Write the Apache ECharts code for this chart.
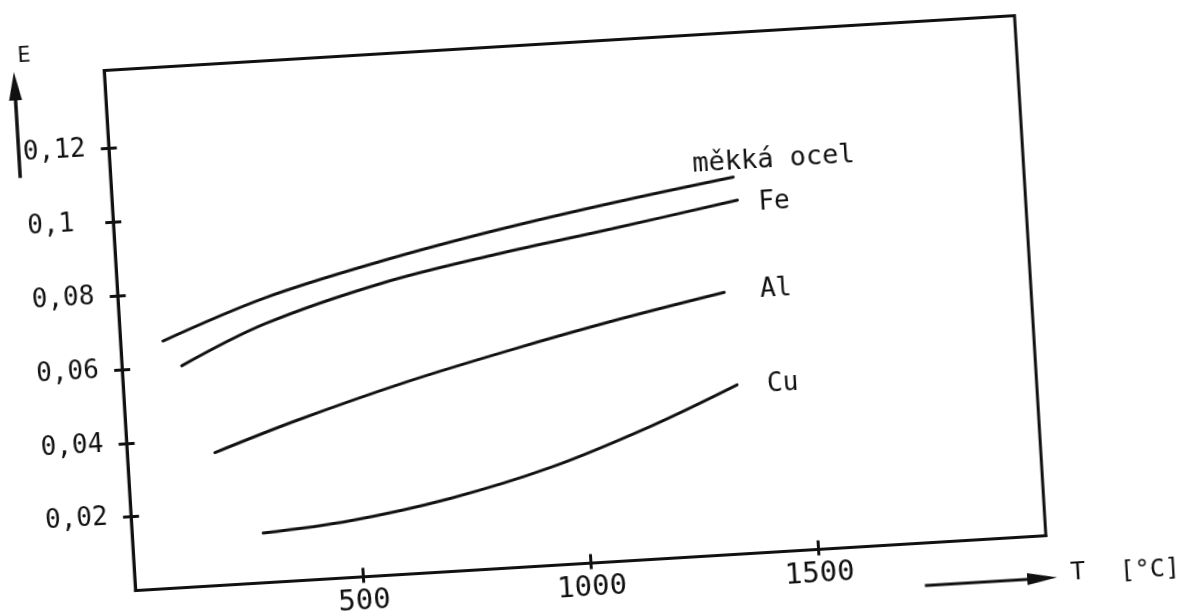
<!DOCTYPE html>
<html><head><meta charset="utf-8">
<script src="https://cdn.jsdelivr.net/npm/echarts@6/dist/echarts.min.js"></script>
<style>
html,body{margin:0;padding:0;width:1187px;height:612px;overflow:hidden;background:#fff;}
#chart{position:absolute;left:-20px;top:-20px;width:1227px;height:652px;transform:rotate(-3.45deg);transform-origin:50% 50%;}
</style></head><body><div id="chart"></div>
<script>
// ---- data ----
const seriesNames = ['měkká ocel', 'Fe', 'Al', 'Cu'];
const mekkaOcel = [[93,0.067],[322,0.077],[581,0.085],[837,0.0915],[1095,0.097],[1363,0.102]];
const fe        = [[131,0.060],[319,0.070],[578,0.079],[834,0.085],[1091,0.090],[1369,0.0957]];
const al        = [[192,0.036],[376,0.0434],[618,0.0519],[856,0.059],[1097,0.0655],[1328,0.071]];
const cu        = [[287,0.0135],[479,0.0154],[701,0.0198],[924,0.0265],[1149,0.036],[1344,0.0458]];
const xTicks = [500, 1000, 1500];
const xTickLabels = ['500', '1000', '1500'];
const yTicks = [0.02, 0.04, 0.06, 0.08, 0.1, 0.12];
const yTickLabels = ['0,02', '0,04', '0,06', '0,08', '0,1', '0,12'];
const xName = 'T';
const xUnit = '[°C]';
const yName = 'E';

// ---- styling ----
const INK = '#111';
const FONT = '"DejaVu Sans Mono", monospace';
const P = 20;
const seriesData = [mekkaOcel, fe, al, cu];
const nameOffsets = [[-40, -15], [21, 4], [36, 0], [30, 2]];
const nameSizes = [27, 26, 26, 26];

const chart = echarts.init(document.getElementById('chart'), null, {renderer: 'canvas'});

const xFmt = v => { const i = xTicks.indexOf(v); return i >= 0 ? xTickLabels[i] : ''; };
const yFmt = v => { const i = yTicks.findIndex(t => Math.abs(t - v) < 1e-9); return i >= 0 ? yTickLabels[i] : ''; };

const baseX = {type: 'value', min: 0, max: 2000, position: 'bottom', splitLine: {show: false}};
const baseY = {type: 'value', min: 0, max: 0.141, position: 'left', splitLine: {show: false}};

const option = {
  animation: false,
  backgroundColor: '#fff',
  grid: {left: 119.2 + P, top: 41.6 + P, width: 912, height: 521, show: true,
         borderColor: INK, borderWidth: 3, backgroundColor: 'transparent'},
  xAxis: [
    Object.assign({}, baseX, {
      axisLine: {show: true, onZero: false, lineStyle: {color: INK, width: 3}},
      axisTick: {show: true, inside: false, length: 6, customValues: xTicks, lineStyle: {color: INK, width: 3}},
      axisLabel: {show: true, customValues: xTicks, formatter: xFmt, margin: 10,
                  color: INK, fontFamily: FONT, fontSize: 29}
    }),
    Object.assign({}, baseX, {
      axisLine: {show: false, onZero: false},
      axisTick: {show: true, inside: true, length: 9, customValues: xTicks, lineStyle: {color: INK, width: 3}},
      axisLabel: {show: false}
    })
  ],
  yAxis: [
    Object.assign({}, baseY, {
      axisLine: {show: true, onZero: false, lineStyle: {color: INK, width: 3}},
      axisTick: {show: true, inside: false, length: 8, customValues: yTicks, lineStyle: {color: INK, width: 3}},
      axisLabel: {show: true, customValues: yTicks, formatter: yFmt, margin: 86, align: 'left',
                  color: INK, fontFamily: FONT, fontSize: 26}
    }),
    Object.assign({}, baseY, {
      axisLine: {show: false, onZero: false},
      axisTick: {show: true, inside: true, length: 8, customValues: yTicks, lineStyle: {color: INK, width: 3}},
      axisLabel: {show: false}
    })
  ],
  series: seriesData.map((d, i) => ({
    name: seriesNames[i], type: 'line', xAxisIndex: 0, yAxisIndex: 0,
    data: d, smooth: 0.35, showSymbol: false, symbol: 'none',
    lineStyle: {color: INK, width: 3, cap: 'round'}
  }))
};
chart.setOption(option);

// labels placed next to the end of each curve, via the chart's own scales
const labelGraphics = seriesData.map((d, i) => {
  const pt = chart.convertToPixel({xAxisIndex: 0, yAxisIndex: 0}, d[d.length - 1]);
  return {type: 'text', x: pt[0] + nameOffsets[i][0], y: pt[1] + nameOffsets[i][1],
          style: {text: seriesNames[i], fill: INK, font: nameSizes[i] + 'px ' + FONT, textAlign: 'left', textVerticalAlign: 'middle'}};
});

const decor = [
  // y axis arrow + name
  {type: 'line', shape: {x1: 29 + P, y1: 143.7 + P, x2: 29 + P, y2: 62 + P}, style: {stroke: INK, lineWidth: 3.5}},
  {type: 'polygon', shape: {points: [[29 + P, 37.5 + P], [22.5 + P, 66 + P], [35.5 + P, 66 + P]]}, style: {fill: INK}},
  {type: 'text', x: 40 + P, y: 22 + P, style: {text: yName, fill: INK, font: '22px ' + FONT, textAlign: 'center', textVerticalAlign: 'middle'}},
  // x axis arrow + name
  {type: 'line', shape: {x1: 907.5 + P, y1: 605 + P, x2: 1015 + P, y2: 605 + P}, style: {stroke: INK, lineWidth: 3}},
  {type: 'polygon', shape: {points: [[1040 + P, 604.7 + P], [1010 + P, 598.7 + P], [1010 + P, 610.7 + P]]}, style: {fill: INK}},
  {type: 'text', x: 1061 + P, y: 601.5 + P, style: {text: xName, fill: INK, font: '25px ' + FONT, textAlign: 'center', textVerticalAlign: 'middle'}},
  {type: 'text', x: 1133 + P, y: 603.5 + P, style: {text: xUnit, fill: INK, font: '25px ' + FONT, textAlign: 'center', textVerticalAlign: 'middle'}}
];

chart.setOption({graphic: labelGraphics.concat(decor)});
</script></body></html>
